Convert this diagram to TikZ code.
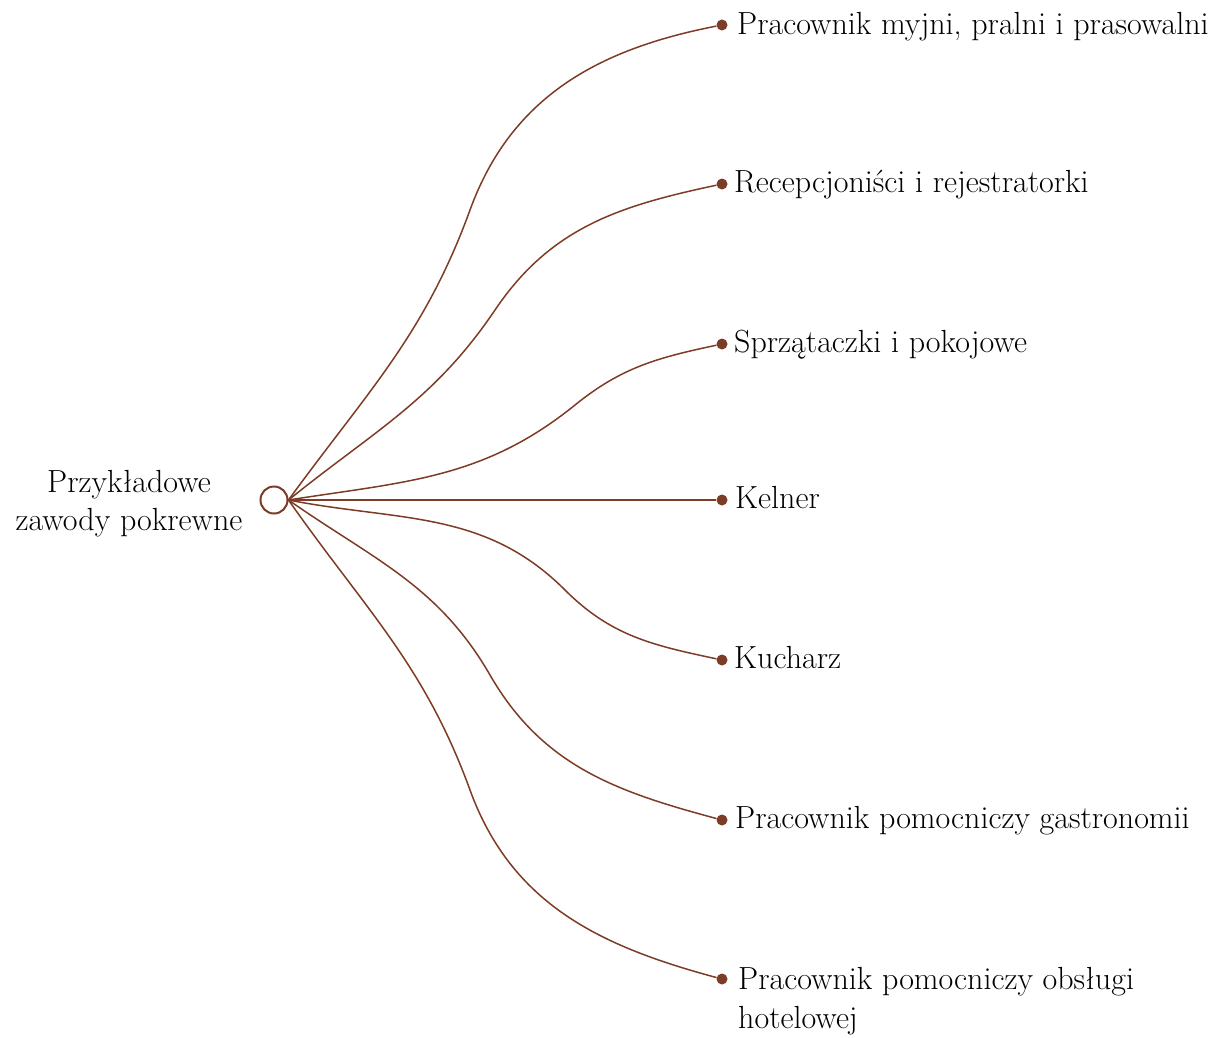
\documentclass[tikz,border=0pt]{standalone}
\usepackage{tikz}
\definecolor{brun}{RGB}{125,60,38}

\begin{document}
\begin{tikzpicture}[x=1pt,y=1pt,
  link/.style={draw=brun,line width=1.5pt},
  dot/.style={circle,fill=brun,inner sep=0pt,minimum size=11pt},
  lbl/.style={anchor=base west,inner sep=0pt,align=left,font=\fontsize{32}{39}\selectfont}]
          \useasboundingbox (0,0) rectangle (1225,-1037);

          \node[circle,draw=brun,line width=2pt,minimum size=27pt,inner sep=0pt] (hub) at (274,-500) {};
          \node[anchor=base,inner sep=0pt,align=center,font=\fontsize{32}{38}\selectfont] (title) at (129,-530) {Przykładowe\\zawody pokrewne};

          \node[dot] (d1) at (722,-25) {};
          \node[dot] (d2) at (722,-184) {};
          \node[dot] (d3) at (722,-344) {};
          \node[dot] (d4) at (722,-500) {};
          \node[dot] (d5) at (722,-660) {};
          \node[dot] (d6) at (722,-820) {};
          \node[dot] (d7) at (722,-979) {};

          \coordinate (k1) at (470,-210);
          \coordinate (k2) at (495,-310);
          \coordinate (k3) at (575,-405);
          \coordinate (k5) at (565,-590);
          \coordinate (k6) at (490,-675);
          \coordinate (k7) at (470,-790);

          \draw[link] (hub.east) to[out=54,in=250] (k1) to[out=70,in=191] (d1);
          \draw[link] (hub.east) to[out=39,in=236] (k2) to[out=56,in=192] (d2);
          \draw[link] (hub.east) to[out=9,in=219] (k3) to[out=39,in=192] (d3);
          \draw[link] (hub.east) -- (d4);
          \draw[link] (hub.east) to[out=-11,in=135] (k5) to[out=-45,in=168] (d5);
          \draw[link] (hub.east) to[out=-35,in=120] (k6) to[out=-60,in=165] (d6);
          \draw[link] (hub.east) to[out=-55,in=110] (k7) to[out=-70,in=165] (d7);

          \node[lbl] at (737,-34) {Pracownik myjni, pralni i prasowalni};
          \node[lbl] at (734,-192) {Recepcjoniści i rejestratorki};
          \node[lbl] at (734,-352) {Sprzątaczki i pokojowe};
          \node[lbl] at (735,-508) {Kelner};
          \node[lbl] at (734,-668) {Kucharz};
          \node[lbl] at (735,-828) {Pracownik pomocniczy gastronomii};
          \node[lbl] at (738,-1028) {Pracownik pomocniczy obsługi\\hotelowej};
\end{tikzpicture}
\end{document}
